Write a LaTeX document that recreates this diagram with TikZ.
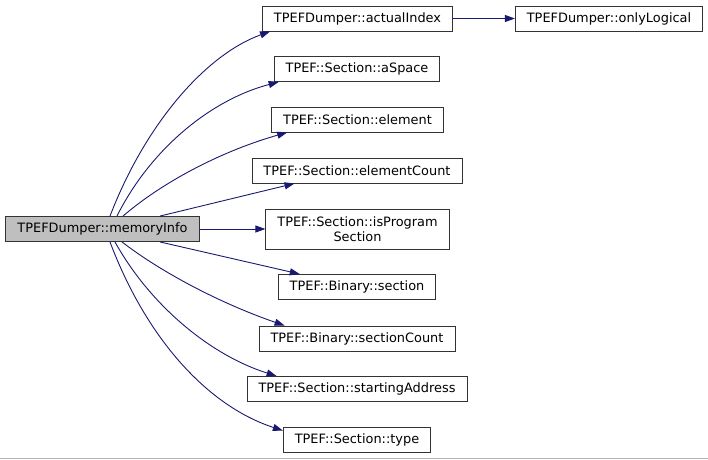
\documentclass[tikz,border=0pt]{standalone}
\usepackage{fontspec}
\setmainfont{DejaVu Sans}
\usepackage{tikz}
\usetikzlibrary{arrows.meta, positioning}
\definecolor{nuit}{HTML}{191970}

\begin{document}
\begin{tikzpicture}[
		x=1pt, y=-1pt,
		fonction/.style={draw=black!80, fill=white, minimum height=25pt, inner xsep=11.5pt, inner ysep=0pt, font=\fontsize{12.9}{15}\selectfont, line width=0.9pt},
		courant/.style={fonction, fill=black!25},
		appel/.style={draw=nuit, fill=none, line width=0.9pt},
		->,>={Triangle[length=10pt,width=7pt]} % pointes pleines
		]
		\useasboundingbox (0,0) rectangle (708,459);
		
		% Les fonctions
		\node[courant] (mem) at (102.5, 229) {TPEFDumper::memoryInfo};
		\node[fonction] (idx) at (357.5, 18.5) {TPEFDumper::actualIndex};
		\node[fonction] (logical) at (609, 18.5) {TPEFDumper::onlyLogical};
		\node[fonction] (aspace) at (357, 69) {TPEF::Section::aSpace};
		\node[fonction] (elem) at (357.5, 119.5) {TPEF::Section::element};
		\node[fonction] (elemcount) at (357, 170.5) {TPEF::Section::elementCount};
		\node[fonction, align=center, minimum height=40pt] (isprog) at (357.5, 229) {TPEF::Section::isProgram\\Section};
		\node[fonction] (sect) at (357, 287) {TPEF::Binary::section};
		\node[fonction] (sectcount) at (357, 338.5) {TPEF::Binary::sectionCount};
		\node[fonction] (start) at (357, 389) {TPEF::Section::startingAddress};
		\node[fonction] (typ) at (357, 439.5) {TPEF::Section::type};
		
		% Les appels
		\draw[appel] ([xshift=7.5pt]mem.north) .. controls (145,125) and (205,55) .. ([xshift=8pt]idx.south west);
		\draw[appel] ([xshift=14.5pt]mem.north) .. controls (150,150) and (210,100) .. ([xshift=5pt]aspace.south west);
		\draw[appel] ([xshift=20.5pt]mem.north) .. controls (165,180) and (225,150) .. ([xshift=16pt]elem.south west);
		\draw[appel] ([xshift=57.5pt]mem.north) -- ([xshift=43pt]elemcount.south west);
		\draw[appel] (mem.east) -- (isprog.west);
		\draw[appel] ([xshift=57.5pt]mem.south) -- ([xshift=22pt]sect.north west);
		\draw[appel] ([xshift=19.5pt]mem.south) .. controls (165,275) and (225,305) .. ([xshift=26pt]sectcount.north west);
		\draw[appel] ([xshift=12.5pt]mem.south) .. controls (150,305) and (210,355) .. ([xshift=30pt]start.north west);
		\draw[appel] ([xshift=7.5pt]mem.south) .. controls (145,335) and (205,405) .. ([yshift=-4pt]typ.north west);
		\draw[appel] (idx) -- (logical);
		
		% bord du bas
		\draw[-, black!30, line width=1pt] (0,458) -- (708,458);
	\end{tikzpicture}
\end{document}
